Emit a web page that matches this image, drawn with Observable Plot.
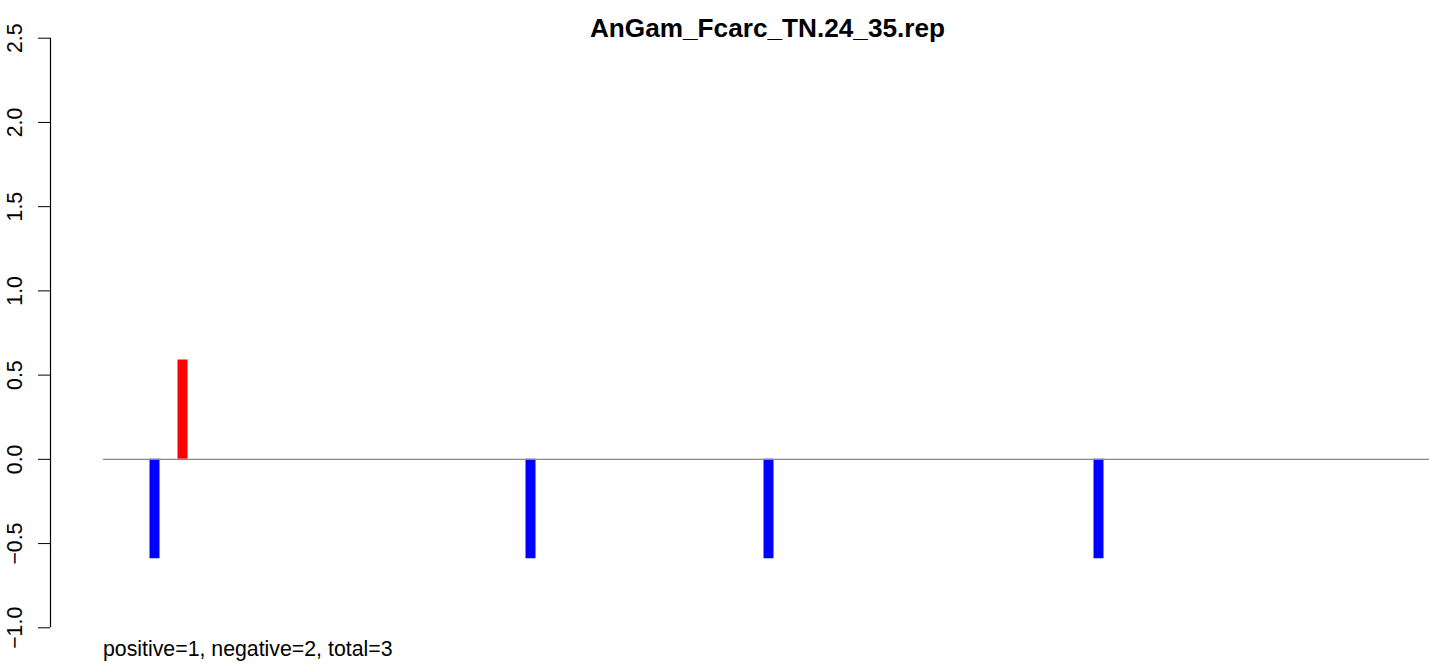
<!DOCTYPE html>
<html>
<head>
<meta charset="utf-8">
<script src="https://cdn.jsdelivr.net/npm/d3@7"></script>
<script src="https://cdn.jsdelivr.net/npm/@observablehq/plot@0.6"></script>
<style>
  html, body { margin: 0; padding: 0; background: #fff; }
  #wrap { position: relative; width: 1429px; height: 664px; overflow: hidden; font-family: "Liberation Sans", Arial, sans-serif; }
  #title { position: absolute; top: 14.5px; left: 767.5px; transform: translateX(-50%); font-size: 26.2px; line-height: 1; font-weight: bold; white-space: nowrap; color: #000; }
  #caption { position: absolute; top: 639px; left: 103px; font-size: 21.3px; line-height: 1; white-space: nowrap; color: #000; }
  svg { position: absolute; left: 0; top: 0; }
</style>
</head>
<body>
<div id="wrap">
  <div id="chart"></div>
  <div id="title"></div>
  <div id="caption"></div>
</div>
<script>
// Data
const titleText = "AnGam_Fcarc_TN.24_35.rep";
const captionText = "positive=1, negative=2, total=3";
const positions = [104, 132, 480, 718, 1048];
const scores = [-0.59, 0.59, -0.59, -0.59, -0.59];
const strands = ["negative", "positive", "negative", "negative", "negative"];
const baselineRange = [53, 1379];
const yTicks = [-1.0, -0.5, 0.0, 0.5, 1.0, 1.5, 2.0, 2.5];
const xDomain = [0, 1379];
const yDomain = [-1, 2.5];

const bars = positions.map((p, i) => ({pos: p, score: scores[i], strand: strands[i]}));

const chart = Plot.plot({
  width: 1429,
  height: 664,
  marginLeft: 50,
  marginRight: 0,
  marginTop: 37.7,
  marginBottom: 36.7,
  style: {fontFamily: "'Liberation Sans', Arial, sans-serif", fontSize: "21.3px", background: "#fff", color: "#000", overflow: "visible"},
  x: {domain: xDomain, axis: null},
  y: {domain: yDomain},
  color: {domain: ["positive", "negative"], range: ["#ff0000", "#0000ff"]},
  marks: [
    Plot.axisY({
      ticks: yTicks,
      tickFormat: d => d.toFixed(1).replace("-", "\u2212"),
      tickSize: 12,
      tickPadding: 17,
      tickRotate: -90,
      label: null,
      stroke: "#000",
      strokeWidth: 1
    }),
    Plot.ruleX([xDomain[0]], {y1: yDomain[0], y2: yDomain[1], stroke: "#000", strokeWidth: 1.2}),
    Plot.ruleX(bars, {x: "pos", y1: 0, y2: "score", stroke: "strand", strokeWidth: 10}),
    Plot.ruleY([0], {x1: baselineRange[0], x2: baselineRange[1], stroke: "#888888", strokeWidth: 1.3})
  ]
});

document.getElementById("chart").appendChild(chart);
document.getElementById("title").textContent = titleText;
document.getElementById("caption").textContent = captionText;
</script>
</body>
</html>
